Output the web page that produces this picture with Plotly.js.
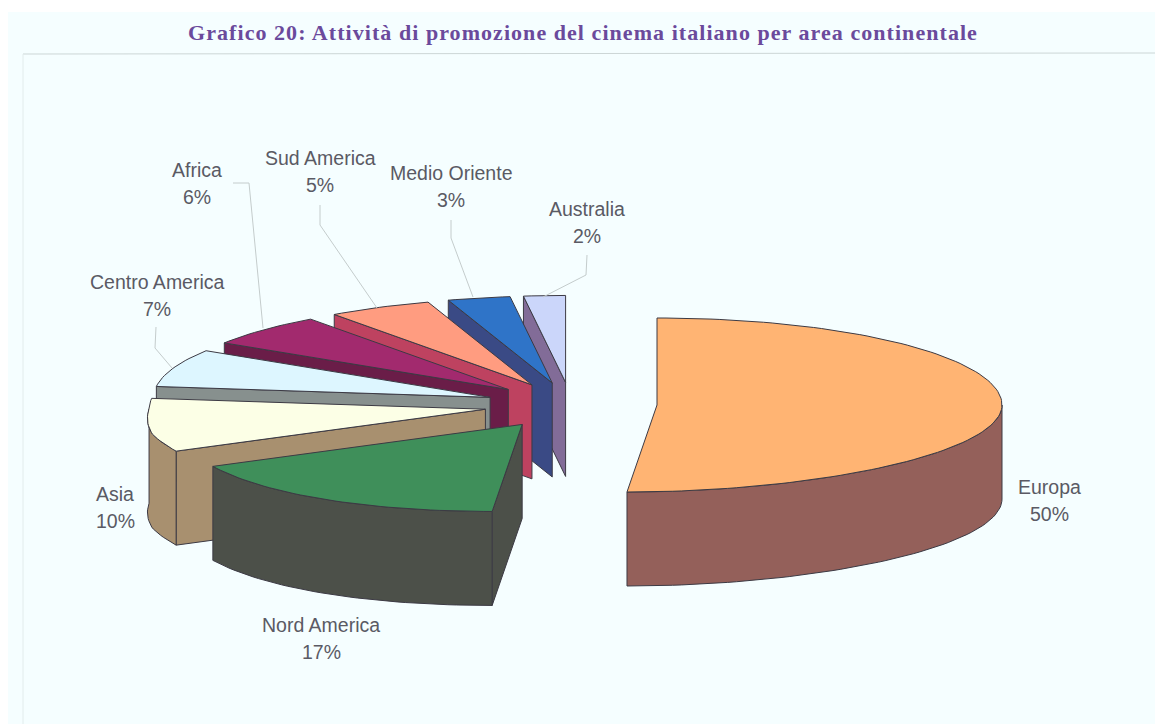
<!DOCTYPE html>
<html>
<head>
<meta charset="utf-8">
<script src="https://cdn.plot.ly/plotly-3.0.1.min.js"></script>
<style>
html,body{margin:0;padding:0;background:#fff}
#chart{width:1155px;height:724px}
.gtitle{letter-spacing:1.05px}
</style>
</head>
<body>
<div id="chart"></div>
<script>
// Share of promotion activity per continental area, clockwise from 12 o'clock
const categories = ['Europa', 'Nord America', 'Asia', 'Centro America', 'Africa', 'Sud America', 'Medio Oriente', 'Australia'];
const shares = [50, 17, 10, 7, 6, 5, 3, 2];
const topColors = ['#FFB473', '#3F8F5A', '#FCFFE6', '#DDF6FF', '#A22A6E', '#FF9C80', '#2F74C8', '#CBD6FA'];
const sideColors = ['#94605A', '#4C5049', '#A8906F', '#87908E', '#6A1D48', '#BE4260', '#3A4A85', '#826C98'];
const labelX = [1049, 321, 115, 157, 197, 320, 451, 587];
const labelY = [487, 625, 494, 282, 170, 158, 173, 209];

// Leader lines from label to slice, one polyline per labelled slice
const leaderCategories = ['Africa', 'Sud America', 'Medio Oriente', 'Australia', 'Centro America'];
const leaderX = [[233, 249, 263], [320, 320, 377], [451, 451, 473], [587, 586, 543], [156, 155, 172]];
const leaderY = [[183, 183, 328], [205, 225, 308], [220, 238, 297], [255, 275, 297], [327, 348, 368]];

// Projection of the tilted disc onto the page
const centerX = 571, centerY = 405, radiusX = 345, radiusY = 87;
const thickness = 94, explodeX = 86, explodeY = 22.6, apexLean = 0.26, frontLean = 0.345, backNarrow = 0.025;

function project(apex, deg, z) {
  const a = deg * Math.PI / 180;
  const dy = -Math.cos(a) * radiusY;
  const lean = dy > 0 ? frontLean * dy * dy / radiusY : 0;
  // the western half recedes a little; the eastern half keeps the full radius
  const t = Math.min(1, Math.max(0, (25 - dy) / 25));
  const sx = Math.sin(a) < 0 ? 1 - backNarrow * t : 1;
  return [apex[0] + Math.sin(a) * radiusX * sx - lean, apex[1] + dy + z];
}
function arc(apex, from, to, z) {
  const pts = [];
  const steps = Math.max(2, Math.ceil(Math.abs(to - from) / 1.5));
  for (let i = 0; i <= steps; i++) pts.push(project(apex, from + (to - from) * i / steps, z));
  return pts;
}
function polygon(pts, fill, line, name) {
  const closed = pts.concat([pts[0]]);
  return {
    type: 'scatter', mode: 'lines', name: name, showlegend: false, hoverinfo: 'skip',
    x: closed.map(p => p[0]), y: closed.map(p => p[1]),
    fill: 'toself', fillcolor: fill, line: {color: line, width: 1}
  };
}

// Start and end angle of each slice, derived from its share
let running = 0;
const slices = shares.map((s, i) => {
  const from = running * 3.6;
  running += s;
  const to = running * 3.6, mid = (from + to) / 2 * Math.PI / 180;
  const dy = -Math.cos(mid) * explodeY;
  const apex = [centerX + Math.sin(mid) * explodeX - Math.max(0, dy) * apexLean, centerY + dy];
  return {i, from, to, apex};
});

// Paint from the back of the pie to the front
const traces = [];
const order = [7, 6, 5, 4, 3, 2, 1, 0];
order.forEach(k => {
  const s = slices[k], name = categories[k];
  const side = sideColors[k], edge = '#3c3a44';
  if (s.from >= 180) {
    const outer = project(s.apex, s.from, 0);
    traces.push(polygon([s.apex, outer, [outer[0], outer[1] + thickness], [s.apex[0], s.apex[1] + thickness]], side, edge, name + ' lato'));
  }
  const wallFrom = Math.max(s.from, 90), wallTo = Math.min(s.to, 270);
  if (wallTo > wallFrom) {
    traces.push(polygon(arc(s.apex, wallFrom, wallTo, 0).concat(arc(s.apex, wallTo, wallFrom, thickness)), side, edge, name + ' bordo'));
  }
  traces.push(polygon([s.apex].concat(arc(s.apex, s.from, s.to, 0)), topColors[k], edge, name));
});

leaderCategories.forEach((name, i) => {
  traces.push({
    type: 'scatter', mode: 'lines', name: name + ' linea', showlegend: false, hoverinfo: 'skip',
    x: leaderX[i], y: leaderY[i], line: {color: '#c4cccc', width: 1}
  });
});

// Category name and percentage sit on separate, widely spaced lines
const annotations = [];
const labelFont = {family: 'Liberation Sans, Arial, sans-serif', size: 19.5, color: '#5a5a64'};
categories.forEach((name, i) => {
  annotations.push({xref: 'x', yref: 'y', x: labelX[i], y: labelY[i], text: name, showarrow: false, font: labelFont, xanchor: 'center', yanchor: 'middle'});
  annotations.push({xref: 'x', yref: 'y', x: labelX[i], y: labelY[i] + 27, text: shares[i] + '%', showarrow: false, font: labelFont, xanchor: 'center', yanchor: 'middle'});
});

const layout = {
  width: 1155, height: 724,
  margin: {l: 0, r: 0, t: 0, b: 0},
  paper_bgcolor: '#ffffff', plot_bgcolor: 'rgba(0,0,0,0)',
  showlegend: false,
  title: {
    text: 'Grafico 20: Attività di promozione del cinema italiano per area continentale',
    x: 583 / 1155, xanchor: 'center', y: 1 - 32 / 724, yanchor: 'middle',
    font: {family: 'Liberation Serif, Times New Roman, serif', size: 22, color: '#6b4a9c', weight: 'bold'}
  },
  xaxis: {range: [0, 1155], visible: false, fixedrange: true},
  yaxis: {range: [724, 0], visible: false, fixedrange: true},
  shapes: [
    {type: 'rect', layer: 'below', xref: 'x', yref: 'y', x0: 8, x1: 1155, y0: 12, y1: 724, fillcolor: '#F5FEFF', line: {width: 0}},
    {type: 'line', layer: 'below', xref: 'x', yref: 'y', x0: 23, x1: 1155, y0: 54, y1: 53, line: {color: '#ccd6d6', width: 1}},
    {type: 'line', layer: 'below', xref: 'x', yref: 'y', x0: 23, x1: 23, y0: 54, y1: 724, line: {color: '#e2ecec', width: 1}}
  ],
  annotations: annotations
};

Plotly.newPlot('chart', traces, layout, {displayModeBar: false, staticPlot: true});
</script>
</body>
</html>
